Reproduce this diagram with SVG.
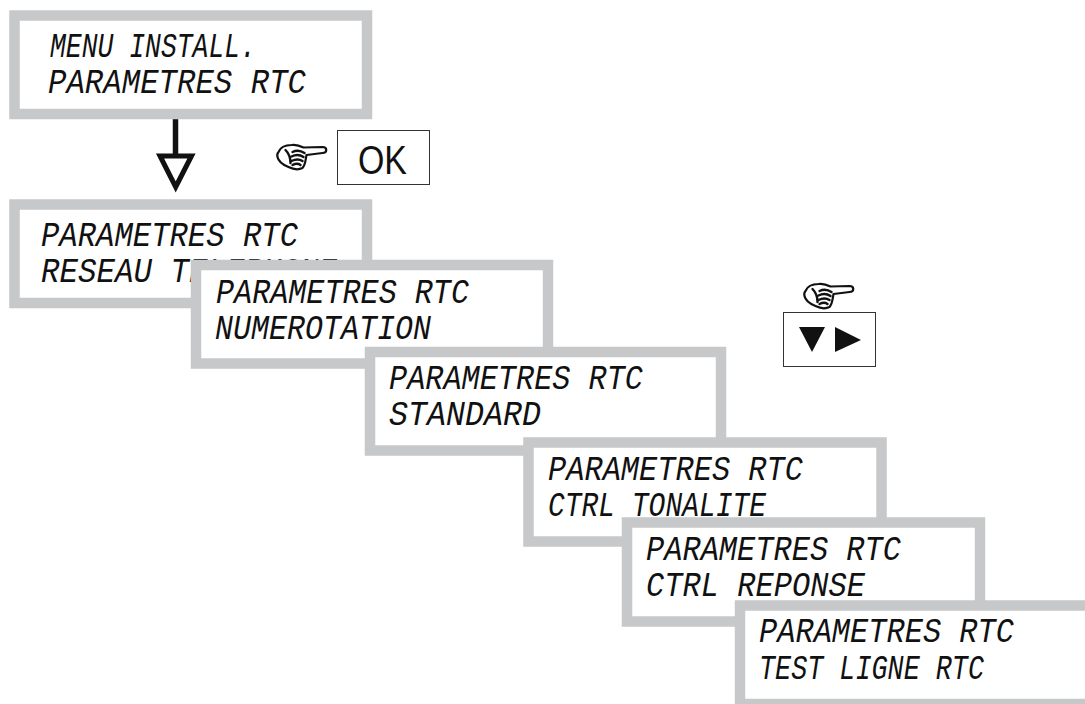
<svg xmlns="http://www.w3.org/2000/svg" width="1085" height="704" viewBox="0 0 1085 704">
<style>
.box{fill:#fff;stroke:#c6c8ca;stroke-width:10.5}
.lcd{font-family:"Liberation Mono","DejaVu Sans Mono",monospace;font-style:italic;font-size:35px;fill:#111}
.key{fill:#fff;stroke:#333;stroke-width:1}
.hand{fill:#fff;stroke:#111;stroke-width:2.200;stroke-linejoin:round;stroke-linecap:round}
.curl{fill:none;stroke:#111;stroke-width:2.400;stroke-linecap:round}
</style>
<defs>
<g id="handIcon">
<path class="hand" d="M3 9C5 4 10 2 16 2C21 1 25 3 28 4.500L47 4C52 4 52 10 47 10L31 12C30 17 30 22 27 25C23 27 17 26 13 24C8 22 3 19 2 14C1.500 12 2 10 3 9Z"/>
<path class="curl" d="M17 9C21 7 26 8 29 10M16 13.500C20 11.500 25 12 28 14M16 18C20 16 24 16 27 18M17 22C20 20.500 23 20.500 25 22M10 7C13 10 15 15 15 20"/>
</g>
</defs>
<g id="connectors">
<path d="M175.500 119V156" fill="none" stroke="#111" stroke-width="5.500"/>
<path d="M160 156H191.500L175.700 187Z" fill="#fff" stroke="#111" stroke-width="5"/>
</g>
<g id="node-1">
<rect class="box" x="14.500" y="15.500" width="352.500" height="98.500"/>
<text class="lcd" x="50" y="57" textLength="206" lengthAdjust="spacingAndGlyphs">MENU INSTALL.</text>
<text class="lcd" x="48" y="92.500" textLength="258" lengthAdjust="spacingAndGlyphs">PARAMETRES RTC</text>
</g>
<g id="key-ok">
<use href="#handIcon" x="275.500" y="143"/>
<rect class="key" x="337.500" y="130.500" width="92" height="54"/>
<text x="358" y="174" font-family="'Liberation Sans',Arial,sans-serif" font-size="41" fill="#111" textLength="49" lengthAdjust="spacingAndGlyphs">OK</text>
</g>
<g id="node-2">
<rect class="box" x="14.500" y="204.500" width="352.500" height="98.500"/>
<text class="lcd" x="41" y="246" textLength="257" lengthAdjust="spacingAndGlyphs">PARAMETRES RTC</text>
<text class="lcd" x="41" y="282" textLength="296" lengthAdjust="spacingAndGlyphs">RESEAU TELEPHONE</text>
</g>
<g id="node-3">
<rect class="box" x="196" y="265" width="352" height="98.500"/>
<text class="lcd" x="216" y="303" textLength="253" lengthAdjust="spacingAndGlyphs">PARAMETRES RTC</text>
<text class="lcd" x="215" y="339" textLength="216" lengthAdjust="spacingAndGlyphs">NUMEROTATION</text>
</g>
<g id="key-nav">
<use href="#handIcon" x="802.500" y="282"/>
<rect class="key" x="783.500" y="312.500" width="92" height="54"/>
<path d="M799 327H825L812 352Z" fill="#111"/>
<path d="M835 327L861 340L835 352Z" fill="#111"/>
</g>
<g id="node-4">
<rect class="box" x="370" y="352" width="351" height="98.500"/>
<text class="lcd" x="389" y="388.500" textLength="254" lengthAdjust="spacingAndGlyphs">PARAMETRES RTC</text>
<text class="lcd" x="389" y="425" textLength="152" lengthAdjust="spacingAndGlyphs">STANDARD</text>
</g>
<g id="node-5">
<rect class="box" x="528.500" y="442.500" width="353" height="99"/>
<text class="lcd" x="548" y="480" textLength="255" lengthAdjust="spacingAndGlyphs">PARAMETRES RTC</text>
<text class="lcd" x="548" y="516" textLength="218" lengthAdjust="spacingAndGlyphs">CTRL TONALITE</text>
</g>
<g id="node-6">
<rect class="box" x="627" y="522.500" width="353" height="99"/>
<text class="lcd" x="646" y="560" textLength="255" lengthAdjust="spacingAndGlyphs">PARAMETRES RTC</text>
<text class="lcd" x="646" y="596" textLength="219" lengthAdjust="spacingAndGlyphs">CTRL REPONSE</text>
</g>
<g id="node-7">
<rect class="box" x="740" y="605.500" width="360" height="98.500"/>
<text class="lcd" x="759" y="642" textLength="255" lengthAdjust="spacingAndGlyphs">PARAMETRES RTC</text>
<text class="lcd" x="759" y="679" textLength="225" lengthAdjust="spacingAndGlyphs">TEST LIGNE RTC</text>
</g>
</svg>
